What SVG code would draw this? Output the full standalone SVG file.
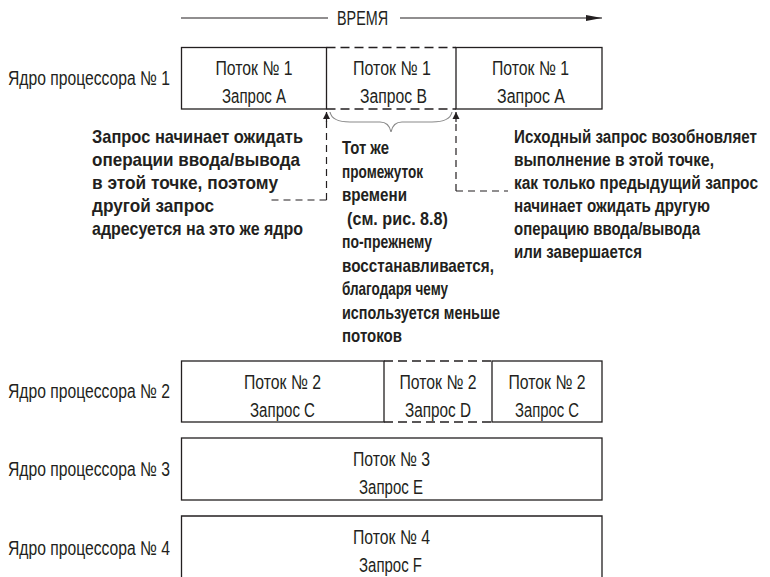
<svg xmlns="http://www.w3.org/2000/svg" width="770" height="577" viewBox="0 0 770 577">
<defs>
<style>
.bx{fill:none;stroke:#231f20;stroke-width:1.3}
.dl{fill:none;stroke:#231f20;stroke-width:1.3;stroke-dasharray:9 5}
.cn{fill:none;stroke:#231f20;stroke-width:1.2;stroke-dasharray:7 5}
.t{font-family:"Liberation Sans Narrow","Liberation Sans",Arial,sans-serif;font-size:20px;fill:#231f20}
.b{font-family:"Liberation Sans Narrow","Liberation Sans",Arial,sans-serif;font-size:18.5px;font-weight:bold;fill:#231f20}
.br{font-size:17.5px}
</style>
<marker id="ah" viewBox="0 0 10 10" refX="10" refY="5" markerWidth="7" markerHeight="9" markerUnits="userSpaceOnUse" orient="auto">
<path d="M0,0 L10,5 L0,10 Z" fill="#231f20"/>
</marker>
<marker id="ta" viewBox="0 0 16 6" refX="16" refY="3" markerWidth="16" markerHeight="6" markerUnits="userSpaceOnUse" orient="auto">
<path d="M0,0 L16,3 L0,6 Z" fill="#231f20"/>
</marker>
</defs>
<rect width="770" height="577" fill="#ffffff"/>

<g id="time">
<line x1="181" y1="18" x2="328" y2="18" stroke="#231f20" stroke-width="1.2"/>
<line x1="400" y1="18" x2="602" y2="18" stroke="#231f20" stroke-width="1.2" marker-end="url(#ta)"/>
<text class="t" x="337" y="25" textLength="51" lengthAdjust="spacingAndGlyphs">ВРЕМЯ</text>
</g>

<g id="labels">
<text class="t" x="8" y="85" textLength="162" lengthAdjust="spacingAndGlyphs">Ядро процессора № 1</text>
<text class="t" x="8" y="398" textLength="162" lengthAdjust="spacingAndGlyphs">Ядро процессора № 2</text>
<text class="t" x="8" y="476" textLength="162" lengthAdjust="spacingAndGlyphs">Ядро процессора № 3</text>
<text class="t" x="8" y="555" textLength="162" lengthAdjust="spacingAndGlyphs">Ядро процессора № 4</text>
</g>

<g id="r1a">
<rect class="bx" x="181.5" y="47.5" width="145" height="61.5"/>
<text class="t" x="215.5" y="75" textLength="77" lengthAdjust="spacingAndGlyphs">Поток № 1</text>
<text class="t" x="222" y="103" textLength="64" lengthAdjust="spacingAndGlyphs">Запрос А</text>
</g>
<g id="r1b">
<line class="dl" x1="326.5" y1="47.5" x2="456" y2="47.5"/>
<line class="dl" x1="326.5" y1="109" x2="456" y2="109"/>
<text class="t" x="353" y="75" textLength="78" lengthAdjust="spacingAndGlyphs">Поток № 1</text>
<text class="t" x="360" y="103" textLength="67" lengthAdjust="spacingAndGlyphs">Запрос В</text>
</g>
<g id="r1c">
<rect class="bx" x="456" y="47.5" width="146" height="61.5"/>
<text class="t" x="492" y="75" textLength="77" lengthAdjust="spacingAndGlyphs">Поток № 1</text>
<text class="t" x="497" y="103" textLength="68" lengthAdjust="spacingAndGlyphs">Запрос А</text>
</g>

<g id="r2a">
<rect class="bx" x="181.5" y="361" width="202.5" height="61"/>
<text class="t" x="244" y="389" textLength="77" lengthAdjust="spacingAndGlyphs">Поток № 2</text>
<text class="t" x="250" y="417" textLength="65" lengthAdjust="spacingAndGlyphs">Запрос C</text>
</g>
<g id="r2b">
<line class="dl" x1="384" y1="361" x2="492" y2="361"/>
<line class="dl" x1="384" y1="422" x2="492" y2="422"/>
<text class="t" x="399.5" y="389" textLength="77" lengthAdjust="spacingAndGlyphs">Поток № 2</text>
<text class="t" x="405" y="417" textLength="66" lengthAdjust="spacingAndGlyphs">Запрос D</text>
</g>
<g id="r2c">
<rect class="bx" x="492" y="361" width="110" height="61"/>
<text class="t" x="508.5" y="389" textLength="77" lengthAdjust="spacingAndGlyphs">Поток № 2</text>
<text class="t" x="515" y="417" textLength="64" lengthAdjust="spacingAndGlyphs">Запрос C</text>
</g>

<g id="r3">
<rect class="bx" x="181.5" y="438" width="420.5" height="62"/>
<text class="t" x="353" y="466" textLength="77" lengthAdjust="spacingAndGlyphs">Поток № 3</text>
<text class="t" x="359" y="494" textLength="64" lengthAdjust="spacingAndGlyphs">Запрос E</text>
</g>

<g id="r4">
<path class="bx" d="M181.5,580 L181.5,516 L602,516 L602,580"/>
<text class="t" x="353" y="544" textLength="77" lengthAdjust="spacingAndGlyphs">Поток № 4</text>
<text class="t" x="359" y="572" textLength="63" lengthAdjust="spacingAndGlyphs">Запрос F</text>
</g>

<g id="connectors">
<path class="cn" d="M326.5,200 L326.5,121"/>
<line x1="326.5" y1="122" x2="326.5" y2="112" stroke="#231f20" stroke-width="1.2" marker-end="url(#ah)"/>
<path class="cn" d="M326.5,200 L268,200"/>
<path class="cn" d="M456,191 L456,121"/>
<line x1="456" y1="122" x2="456" y2="112" stroke="#231f20" stroke-width="1.2" marker-end="url(#ah)"/>
<path class="cn" d="M456,191 L508,191"/>
<path d="M330,112 Q332,122 350,122 L380,122 Q389,122 391,132 Q393,122 402,122 L432,122 Q450,122 452,112" fill="none" stroke="#8a8a8a" stroke-width="1.2"/>
</g>

<g id="note-left">
<text class="b" x="92" y="143" textLength="211" lengthAdjust="spacingAndGlyphs">Запрос начинает ожидать</text>
<text class="b" x="92" y="166" textLength="208" lengthAdjust="spacingAndGlyphs">операции ввода/вывода</text>
<text class="b" x="92" y="189" textLength="186" lengthAdjust="spacingAndGlyphs">в этой точке, поэтому</text>
<text class="b" x="92" y="212" textLength="122" lengthAdjust="spacingAndGlyphs">другой запрос</text>
<text class="b" x="92" y="235" textLength="211" lengthAdjust="spacingAndGlyphs">адресуется на это же ядро</text>
</g>

<g id="note-middle">
<text class="b" x="342" y="154" textLength="47" lengthAdjust="spacingAndGlyphs">Тот же</text>
<text class="b" x="342" y="177.5" textLength="81" lengthAdjust="spacingAndGlyphs">промежуток</text>
<text class="b" x="342" y="201" textLength="65" lengthAdjust="spacingAndGlyphs">времени</text>
<text class="b" x="347" y="224.5" textLength="101" lengthAdjust="spacingAndGlyphs">(см. рис. 8.8)</text>
<text class="b" x="342" y="248" textLength="90" lengthAdjust="spacingAndGlyphs">по-прежнему</text>
<text class="b" x="342" y="271.5" textLength="152" lengthAdjust="spacingAndGlyphs">восстанавливается,</text>
<text class="b" x="342" y="295" textLength="106" lengthAdjust="spacingAndGlyphs">благодаря чему</text>
<text class="b" x="342" y="318.5" textLength="158" lengthAdjust="spacingAndGlyphs">используется меньше</text>
<text class="b" x="342" y="342" textLength="60" lengthAdjust="spacingAndGlyphs">потоков</text>
</g>

<g id="note-right">
<text class="b br" x="514" y="143" textLength="243" lengthAdjust="spacingAndGlyphs">Исходный запрос возобновляет</text>
<text class="b br" x="514" y="166" textLength="200" lengthAdjust="spacingAndGlyphs">выполнение в этой точке,</text>
<text class="b br" x="514" y="189" textLength="244" lengthAdjust="spacingAndGlyphs">как только предыдущий запрос</text>
<text class="b br" x="514" y="212" textLength="196" lengthAdjust="spacingAndGlyphs">начинает ожидать другую</text>
<text class="b br" x="514" y="235" textLength="186" lengthAdjust="spacingAndGlyphs">операцию ввода/вывода</text>
<text class="b br" x="514" y="258" textLength="128" lengthAdjust="spacingAndGlyphs">или завершается</text>
</g>
</svg>
